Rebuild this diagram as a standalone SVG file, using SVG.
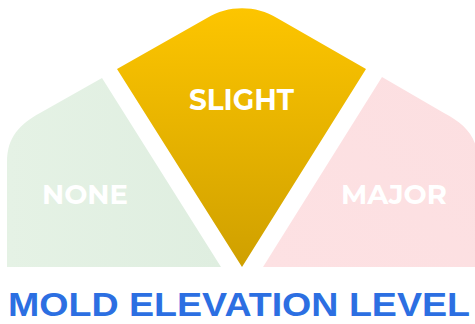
<svg xmlns="http://www.w3.org/2000/svg" width="475" height="324" viewBox="0 0 475 324">
  <defs>
    <linearGradient id="gSlight" x1="0" y1="0" x2="0" y2="1">
      <stop offset="0" stop-color="#fdc500"/>
      <stop offset="1" stop-color="#cfa000"/>
    </linearGradient>
    <linearGradient id="gNone" x1="0" y1="0" x2="1" y2="0">
      <stop offset="0" stop-color="#e5f2e5"/>
      <stop offset="1" stop-color="#dfeee0"/>
    </linearGradient>
    <linearGradient id="gMajor" x1="0" y1="1" x2="1" y2="0">
      <stop offset="0" stop-color="#fde1e3"/>
      <stop offset="1" stop-color="#fcdfe1"/>
    </linearGradient>
    <style>
      .lbl { font-family: "Montserrat", "Open Sans", "Liberation Sans", sans-serif; font-weight: 700; fill: #ffffff; text-anchor: middle; }
      .title { font-family: "Liberation Sans", Arial, sans-serif; font-weight: 700; fill: #2c6fe2; }
    </style>
  </defs>
  <rect width="475" height="324" fill="#ffffff"/>
  <g id="none">
    <path d="M102 78 L221 267 L7 267 L7 162 C7 137 20 124 40 113 Z" fill="url(#gNone)"/>
    <text class="lbl" x="85" y="204" font-size="28" textLength="86" lengthAdjust="spacingAndGlyphs">NONE</text>
  </g>
  <g id="slight">
    <path d="M117 69 L207 18 C228 5 256 5 277 18 L366 69 L242 267 Z" fill="url(#gSlight)"/>
    <text class="lbl" x="241.5" y="110" font-size="29" textLength="105" lengthAdjust="spacingAndGlyphs">SLIGHT</text>
  </g>
  <g id="major">
    <path d="M382 77 L263 267 L478 267 L478 162 C478 137 465 124 444 113 Z" fill="url(#gMajor)"/>
    <text class="lbl" x="394" y="204" font-size="28" textLength="106" lengthAdjust="spacingAndGlyphs">MAJOR</text>
  </g>
  <g id="connectors"/>
  <text class="title" x="8" y="316" font-size="34" textLength="462" lengthAdjust="spacingAndGlyphs">MOLD ELEVATION LEVEL</text>
</svg>
